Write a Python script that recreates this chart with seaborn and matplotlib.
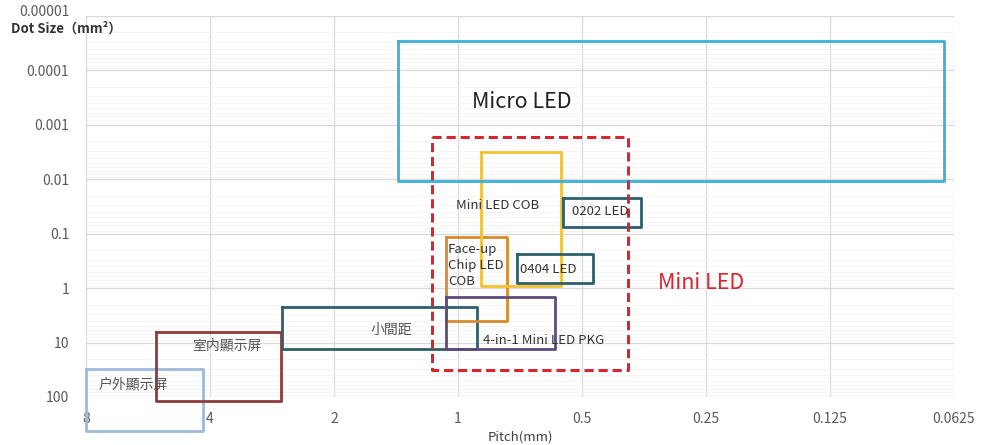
import pandas as pd
import matplotlib.pyplot as plt
import seaborn as sns
from matplotlib.ticker import FixedLocator, NullLocator, LogLocator

# boxes: pitch range (mm) and dot size range (mm^2)
names = ['户外顯示屏', '室内顯示屏', '小間距', 'Face-up Chip LED COB', '4-in-1 Mini LED PKG',
         'Mini LED COB', '0404 LED', '0202 LED', 'Micro LED']
pitch_max = [8.0, 5.4, 2.67, 1.07, 1.07, 0.88, 0.72, 0.556, 1.4]
pitch_min = [4.16, 2.69, 0.9, 0.76, 0.58, 0.563, 0.47, 0.36, 0.066]
dot_min = [31, 6.3, 2.2, 0.113, 1.43, 0.0031, 0.233, 0.0218, 2.9e-5]
dot_max = [430, 116, 12.9, 4.1, 12.9, 0.9, 0.79, 0.0745, 0.0107]
colors = ['#9DB9DC', '#8E3B3A', '#2F5F6B', '#D98A2B', '#5E4B7C',
          '#F2C232', '#2F5F6B', '#2F5F6B', '#3AB2D5']

# Mini LED region (dashed)
mini_pitch = [1.156, 0.387]
mini_dot = [0.00166, 31.4]

# labels
label_text = ['户外顯示屏', '室内顯示屏', '小間距', 'Face-up\nChip LED\nCOB', '4-in-1 Mini LED PKG',
              'Mini LED COB', '0404 LED', '0202 LED', 'Micro LED', 'Mini LED']
label_x = [7.44, 4.42, 1.63, 1.057, 0.87, 1.01, 0.707, 0.529, 0.925, 0.327]
label_y = [59, 11.3, 5.8, 0.386, 9.2, 0.0306, 0.457, 0.0395, 0.00038, 0.8]
label_size = [10, 10, 10, 9.5, 9.5, 9.5, 9.5, 9.5, 15.5, 15.5]
label_color = ['#555555', '#555555', '#555555', '#333333', '#333333',
               '#333333', '#333333', '#333333', '#222222', '#D7262F']

x_ticks = [8, 4, 2, 1, 0.5, 0.25, 0.125, 0.0625]
x_ticklabels = ['8', '4', '2', '1', '0.5', '0.25', '0.125', '0.0625']
y_ticks = [0.00001, 0.0001, 0.001, 0.01, 0.1, 1, 10, 100]
y_ticklabels = ['0.00001', '0.0001', '0.001', '0.01', '0.1', '1', '10', '100']

sns.set_theme(style='whitegrid')
plt.rcParams['font.family'] = ['Noto Sans CJK SC', 'DejaVu Sans']

rows = []
for n, x0, x1, y0, y1 in zip(names, pitch_max, pitch_min, dot_min, dot_max):
    for px, py in [(x0, y0), (x1, y0), (x1, y1), (x0, y1), (x0, y0)]:
        rows.append({'name': n, 'pitch': px, 'dot': py})
boxes = pd.DataFrame(rows)

mini = pd.DataFrame({
    'pitch': [mini_pitch[0], mini_pitch[1], mini_pitch[1], mini_pitch[0], mini_pitch[0]],
    'dot': [mini_dot[0], mini_dot[0], mini_dot[1], mini_dot[1], mini_dot[0]],
})

fig = plt.figure(figsize=(9.86, 4.45), dpi=100)
ax = fig.add_axes([86 / 986, 1 - 397 / 445, 868 / 986, 381 / 445])

sns.lineplot(data=boxes, x='pitch', y='dot', hue='name', palette=dict(zip(names, colors)),
             sort=False, estimator=None, legend=False, linewidth=2.0,
             solid_capstyle='projecting', ax=ax)
sns.lineplot(data=mini, x='pitch', y='dot', sort=False, estimator=None, color='#D7262F',
             linewidth=2.2, linestyle=(0, (3, 1.6)), ax=ax)
for line in ax.lines:
    line.set_clip_on(False)
    line.set_zorder(3)

ax.set_xscale('log', base=2)
ax.set_yscale('log')
ax.set_xlim(8, 0.0625)
ax.set_ylim(100, 0.00001)

ax.xaxis.set_major_locator(FixedLocator(x_ticks))
ax.xaxis.set_minor_locator(NullLocator())
ax.set_xticklabels(x_ticklabels)
ax.yaxis.set_major_locator(FixedLocator(y_ticks))
ax.yaxis.set_minor_locator(LogLocator(base=10, subs=range(2, 10)))
ax.set_yticklabels(y_ticklabels)
ax.tick_params(axis='both', which='both', length=0, labelsize=10, labelcolor='#595959')
ax.tick_params(axis='y', pad=12)
ax.tick_params(axis='x', pad=11)
ax.get_yticklabels()[0].set_va('baseline')

ax.grid(which='major', color='#D9D9D9', linewidth=0.9)
ax.grid(which='minor', axis='y', color='#F1F1F1', linewidth=0.5)
for s in ax.spines.values():
    s.set_visible(False)
ax.set_xlabel('')
ax.set_ylabel('')

for t, x, y, fs, c in zip(label_text, label_x, label_y, label_size, label_color):
    ax.text(x, y, t, fontsize=fs, color=c, ha='left', va='center', linespacing=1.3, zorder=4)

fig.text(11 / 986, 1 - 29 / 445, 'Dot Size（mm²）', fontsize=9.5, fontweight='bold',
         color='#333333', ha='left', va='center')
fig.text(520 / 986, 1 - 437 / 445, 'Pitch(mm)', fontsize=9.5, color='#404040',
         ha='center', va='center')

fig.savefig('out.png', dpi=100)
